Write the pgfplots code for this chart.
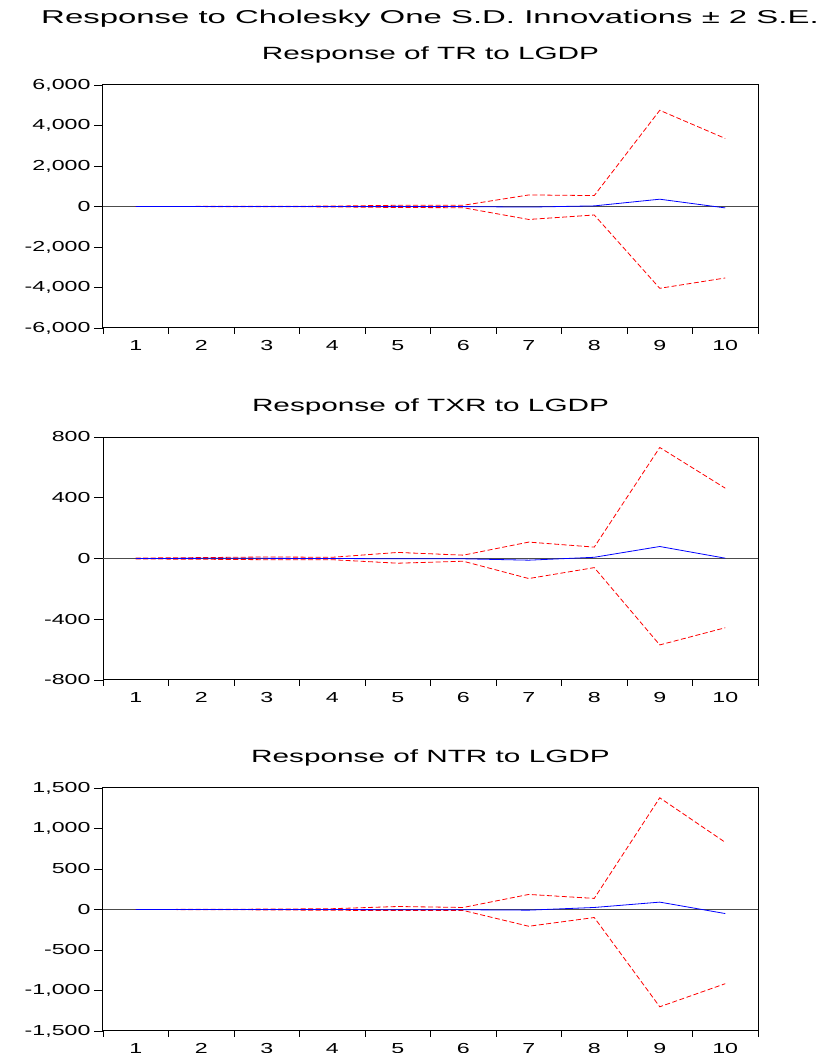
\documentclass[border=0pt]{standalone}
\usepackage{fontspec}
\setmainfont{Liberation Sans}
\newfontfamily\tickfont{Liberation Sans}[FakeStretch=1.6]
\newfontfamily\subfont{Liberation Sans}[FakeStretch=1.68]
\newfontfamily\titfont{Liberation Sans}[FakeStretch=1.77]
\usepackage{pgfplots}
\pgfplotsset{compat=1.18}
\pgfplotsset{
  irf/.style={
    scale only axis, width=655pt, height=243pt,
    xmin=0.5, xmax=10.5,
    xtick={1,2,3,4,5,6,7,8,9,10},
    xticklabels={1,2,3,4,5,6,7,8,9,10},
    minor xtick={0.5,1.5,2.5,3.5,4.5,5.5,6.5,7.5,8.5,9.5,10.5},
    major x tick style={draw=none},
    minor tick length=6pt, major tick length=9pt,
    tick align=outside,
    xtick pos=left, ytick pos=left,
    axis line style={black, line width=1pt},
    tick style={black, line width=0.8pt},
    ticklabel style={font=\tickfont\fontsize{14.5}{14.5}\selectfont},
    xticklabel style={yshift=0.5pt},
    clip=false,
  },
  band/.style={red, line width=0.8pt, dash pattern=on 5pt off 2.5pt},
  resp/.style={blue, line width=0.8pt},
  zl/.style={black!70, line width=0.8pt},
}
\begin{document}
\begin{tikzpicture}
\useasboundingbox (0pt,0pt) rectangle (823pt,1053pt);
\node[font=\titfont\fontsize{18.6}{18.6}\selectfont] at (430pt,1034pt) {Response to Cholesky One S.D. Innovations ± 2 S.E.};
\node[font=\subfont\fontsize{17.7}{17.7}\selectfont] at (430.5pt,998pt) {Response of TR to LGDP};
\node[font=\subfont\fontsize{17.7}{17.7}\selectfont] at (430.5pt,646pt) {Response of TXR to LGDP};
\node[font=\subfont\fontsize{17.7}{17.7}\selectfont] at (430.5pt,295pt) {Response of NTR to LGDP};

% Panel 1: TR
\begin{axis}[irf, at={(103pt,725pt)}, anchor=south west,
  ymin=-6000, ymax=6000, ytick={-6000,-4000,-2000,0,2000,4000,6000},
  yticklabels={{-6,000},{-4,000},{-2,000},{0},{2,000},{4,000},{6,000}}]
\addplot[zl] coordinates {(0.5,0) (10.5,0)};
\addplot[band] coordinates {(1,0) (2,5) (3,10) (4,20) (5,60) (6,60) (7,570) (8,540) (9,4750) (10,3360)};
\addplot[band] coordinates {(1,0) (2,-5) (3,-10) (4,-20) (5,-50) (6,-60) (7,-640) (8,-420) (9,-4040) (10,-3530)};
\addplot[resp] coordinates {(1,0) (2,0) (3,0) (4,0) (5,5) (6,-5) (7,-30) (8,30) (9,360) (10,-70)};
\end{axis}

% Panel 2: TXR
\begin{axis}[irf, at={(103pt,373pt)}, anchor=south west,
  ymin=-800, ymax=800, ytick={-800,-400,0,400,800},
  yticklabels={{-800},{-400},{0},{400},{800}}]
\addplot[zl] coordinates {(0.5,0) (10.5,0)};
\addplot[band] coordinates {(1,3) (2,6) (3,10) (4,8) (5,40) (6,22) (7,108) (8,75) (9,731) (10,463)};
\addplot[band] coordinates {(1,-3) (2,-5) (3,-8) (4,-8) (5,-31) (6,-18) (7,-132) (8,-60) (9,-569) (10,-456)};
\addplot[resp] coordinates {(1,0) (2,1) (3,1) (4,0) (5,-2) (6,-2) (7,-11) (8,8) (9,79) (10,2)};
\end{axis}

% Panel 3: NTR
\begin{axis}[irf, at={(103pt,22pt)}, anchor=south west,
  ymin=-1500, ymax=1500, ytick={-1500,-1000,-500,0,500,1000,1500},
  yticklabels={{-1,500},{-1,000},{-500},{0},{500},{1,000},{1,500}}]
\addplot[zl] coordinates {(0.5,0) (10.5,0)};
\addplot[band] coordinates {(1,0) (2,2) (3,5) (4,10) (5,37) (6,25) (7,186) (8,137) (9,1379) (10,829)};
\addplot[band] coordinates {(1,0) (2,-2) (3,-5) (4,-10) (5,-12) (6,-12) (7,-207) (8,-99) (9,-1201) (10,-916)};
\addplot[resp] coordinates {(1,0) (2,0) (3,0) (4,0) (5,-3) (6,-3) (7,-8) (8,25) (9,91) (10,-50)};
\end{axis}
\end{tikzpicture}
\end{document}
